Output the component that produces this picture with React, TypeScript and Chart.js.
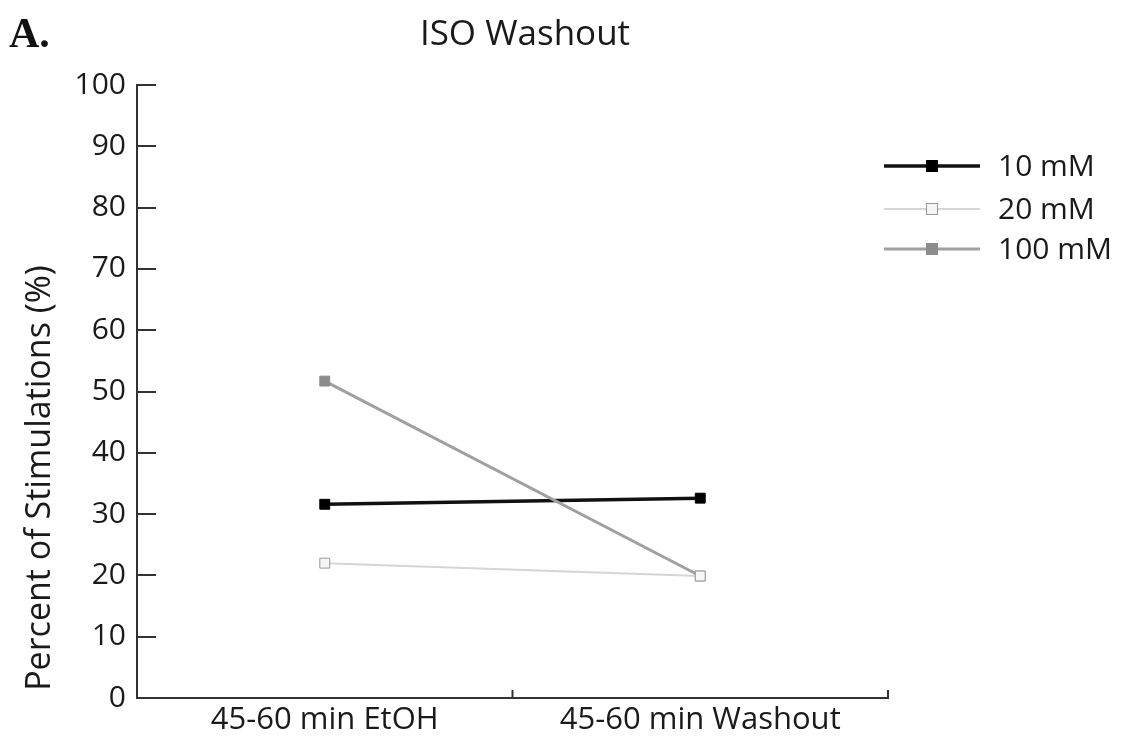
import React, { useEffect, useRef } from "react";
import { Chart, registerables } from "chart.js";

Chart.register(...registerables);

const categories = ["45-60 min EtOH", "45-60 min Washout"];
const series10 = [31.6, 32.6];
const series20 = [22.0, 19.9];
const series100 = [51.7, 19.9];
const seriesNames = ["10 mM", "20 mM", "100 mM"];
const yTicks = [0, 10, 20, 30, 40, 50, 60, 70, 80, 90, 100];
const chartTitle = "ISO Washout";
const yTitle = "Percent of Stimulations (%)";
const panelLabel = "A.";

const FONT = "'Open Sans', 'Noto Sans', sans-serif";

const styles = [
  { line: "#111111", width: 3.5, fill: "#000000", border: "#000000" },
  { line: "#d6d6d6", width: 2, fill: "#f6f6f6", border: "#9a9a9a" },
  { line: "#a0a0a0", width: 3, fill: "#8c8c8c", border: "#8c8c8c" },
];

const decorPlugin = {
  id: "decor",
  afterDraw(chart: any) {
    const ctx = chart.ctx;
    const area = chart.chartArea;
    const y = chart.scales.y;
    const x = chart.scales.x;
    ctx.save();
    // inward y ticks
    ctx.strokeStyle = "#333";
    ctx.lineWidth = 2;
    yTicks.forEach((v) => {
      const py = Math.round(y.getPixelForValue(v));
      ctx.beginPath();
      ctx.moveTo(area.left, py);
      ctx.lineTo(area.left + 19, py);
      ctx.stroke();
    });
    // inward x ticks at category boundaries
    [0.5, 1.5].forEach((v) => {
      const px = x.getPixelForValue(v);
      ctx.beginPath();
      ctx.moveTo(px, area.bottom);
      ctx.lineTo(px, area.bottom - 8);
      ctx.stroke();
    });
    // panel label
    ctx.fillStyle = "#111";
    ctx.font = "bold 42px 'Liberation Serif', 'DejaVu Serif', serif";
    ctx.textAlign = "left";
    ctx.textBaseline = "alphabetic";
    ctx.fillText(panelLabel, 9, 47);
    // chart title
    ctx.fillStyle = "#1a1a1a";
    ctx.font = "35px " + FONT;
    ctx.textAlign = "center";
    ctx.textBaseline = "middle";
    ctx.fillText(chartTitle, 525, 35);
    // y title
    ctx.save();
    ctx.translate(40, 478);
    ctx.rotate(-Math.PI / 2);
    ctx.font = "34px " + FONT;
    ctx.fillText(yTitle, 0, 0);
    ctx.restore();
    // legend
    const rows = [166, 209, 249];
    ctx.textAlign = "left";
    seriesNames.forEach((name, i) => {
      const s = styles[i];
      const ry = rows[i];
      ctx.strokeStyle = s.line;
      ctx.lineWidth = s.width;
      ctx.beginPath();
      ctx.moveTo(884, ry);
      ctx.lineTo(980, ry);
      ctx.stroke();
      ctx.fillStyle = s.fill;
      ctx.fillRect(926, ry - 6, 12, 12);
      ctx.strokeStyle = s.border;
      ctx.lineWidth = 1;
      ctx.strokeRect(926.5, ry - 5.5, 11, 11);
      ctx.fillStyle = "#1a1a1a";
      ctx.font = "30px " + FONT;
      ctx.textBaseline = "middle";
      ctx.fillText(name, 998, ry + 1);
    });
    ctx.restore();
  },
};

export default function App() {
  const ref = useRef<HTMLCanvasElement | null>(null);
  useEffect(() => {
    if (!ref.current) return;
    const mk = (data: number[], i: number, label: string) => ({
      label,
      data,
      borderColor: styles[i].line,
      borderWidth: styles[i].width,
      backgroundColor: styles[i].fill,
      pointStyle: "rect",
      pointRadius: 7,
      pointBorderColor: styles[i].border,
      pointBackgroundColor: styles[i].fill,
      pointBorderWidth: 1,
      tension: 0,
    });
    const chart = new Chart(ref.current, {
      type: "line",
      data: {
        labels: categories,
        datasets: [
          mk(series20, 1, seriesNames[1]),
          mk(series100, 2, seriesNames[2]),
          mk(series10, 0, seriesNames[0]),
        ],
      },
      options: {
        animation: false,
        responsive: false,
        layout: { padding: { left: 0, right: 234, top: 85, bottom: 0 } },
        plugins: {
          legend: { display: false },
          tooltip: { enabled: false },
          title: { display: false },
        },
        scales: {
          x: {
            type: "category",
            offset: true,
            grid: { display: false, drawTicks: false },
            border: { display: true, color: "#333", width: 2 },
            ticks: { color: "#1a1a1a", font: { family: FONT, size: 31 }, padding: 4, maxRotation: 0 },
            afterFit: (s: any) => { s.height = 46; },
          },
          y: {
            min: 0,
            max: 100,
            grid: { display: false, drawTicks: false },
            border: { display: true, color: "#333", width: 2 },
            ticks: { stepSize: 10, color: "#1a1a1a", font: { family: FONT, size: 30 }, padding: 11 },
            afterFit: (s: any) => { s.width = 137; },
          },
        },
      },
      plugins: [decorPlugin],
    } as any);
    return () => chart.destroy();
  }, []);
  return (
    <div style={{ position: "fixed", left: 0, top: 0, width: 1122, height: 744, background: "#fff" }}>
      <canvas ref={ref} width={1122} height={744} style={{ width: 1122, height: 744 }} />
    </div>
  );
}
